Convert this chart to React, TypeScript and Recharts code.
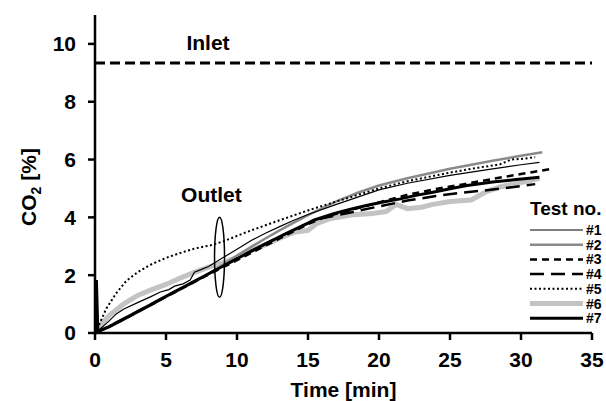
import {
  LineChart,
  Line,
  XAxis,
  YAxis,
  ReferenceLine,
  ReferenceDot,
  Legend,
} from "recharts";

const FONT = '"Liberation Sans", Arial, sans-serif';

// time [min], CO2 [%]
const test1: [number, number][] = [
  [0, 0], [0.5, 0.2], [1, 0.42], [1.5, 0.66], [2, 0.82], [3, 1.05], [3.9, 1.25],
  [4.6, 1.42], [5.2, 1.5], [5.6, 1.62], [6.2, 1.7], [6.7, 1.83], [7, 2.1], [7.5, 2.2],
  [8, 2.3], [9, 2.6], [10, 2.9], [11, 3.2], [12, 3.45], [13, 3.68], [14, 3.9], [15, 4.1],
  [17, 4.45], [20, 4.95], [22, 5.18], [25, 5.45], [28, 5.68], [30, 5.82], [31.3, 5.9],
];
const test2: [number, number][] = [
  [0, 0], [1, 0.2], [2, 0.45], [3, 0.72], [4, 0.98], [5, 1.25], [6, 1.5], [7, 1.76],
  [8, 2.04], [9, 2.36], [10, 2.68], [11, 2.98], [12, 3.27], [13, 3.55], [14, 3.82],
  [15, 4.08], [17, 4.55], [18.5, 4.85], [20, 5.1], [22, 5.35], [25, 5.68], [28, 5.96],
  [30, 6.13], [31.5, 6.25],
];
const test3: [number, number][] = [
  [0, 0], [1, 0.22], [2, 0.47], [3, 0.73], [4, 0.99], [5, 1.25], [6, 1.51], [7, 1.77],
  [8, 2.02], [9, 2.27], [10, 2.52], [11, 2.77], [12, 3.02], [13, 3.27], [14, 3.52],
  [15, 3.76], [16, 3.98], [17, 4.12], [18, 4.25], [20, 4.52], [22, 4.78], [24, 4.98],
  [26, 5.15], [28, 5.33], [30, 5.5], [32.2, 5.68],
];
const test4: [number, number][] = [
  [0, 0], [1, 0.23], [2, 0.49], [3, 0.75], [4, 1.01], [5, 1.27], [6, 1.53], [7, 1.79],
  [8, 2.05], [9, 2.31], [10, 2.57], [11, 2.83], [12, 3.08], [13, 3.33], [14, 3.57],
  [15, 3.8], [16, 3.97], [17, 4.07], [18, 4.17], [20, 4.38], [22, 4.58], [24, 4.74],
  [26, 4.86], [28, 4.96], [30, 5.08], [31, 5.15],
];
const test5: [number, number][] = [
  [0, 0], [0.3, 0.3], [0.8, 0.85], [1.5, 1.38], [2.2, 1.8], [3, 2.1], [3.9, 2.36],
  [5, 2.6], [6.2, 2.8], [7, 2.92], [8.1, 3.03], [9, 3.16], [10.4, 3.44], [11.4, 3.62],
  [13, 3.9], [15, 4.24], [17, 4.55], [20, 5.0], [22, 5.25], [25, 5.55], [27, 5.72],
  [28.5, 5.83], [29.3, 6.0], [30, 6.02], [31, 6.08],
];
const test6: [number, number][] = [
  [0, 0], [0.5, 0.35], [1, 0.6], [2, 1.0], [3, 1.3], [4, 1.5], [5, 1.68], [6, 1.9],
  [7, 2.1], [8, 2.28], [9, 2.42], [10, 2.62], [11, 2.85], [12, 3.05], [13, 3.28],
  [14, 3.48], [15, 3.55], [15.6, 3.78], [16.5, 3.95], [18, 4.08], [19.5, 4.13],
  [20.5, 4.2], [21.2, 4.45], [22, 4.3], [23, 4.35], [23.8, 4.45], [25, 4.55],
  [26.5, 4.6], [27.6, 4.9], [28.5, 5.05], [30, 5.2], [31.3, 5.35],
];
const test7: [number, number][] = [
  [0, 0], [0.1, 1.83], [0.2, 0.05], [1, 0.22], [2, 0.48], [3, 0.74], [4, 1.0],
  [5, 1.27], [6, 1.53], [7, 1.79], [8, 2.05], [9, 2.31], [10, 2.57], [11, 2.83],
  [12, 3.08], [13, 3.33], [14, 3.57], [15, 3.8], [15.4, 3.9], [16.8, 4.13], [18, 4.28],
  [19.1, 4.41], [20.3, 4.53], [21.5, 4.64], [22.6, 4.76], [23.8, 4.87], [25, 4.99],
  [26.2, 5.1], [28, 5.22], [29.5, 5.3], [31.3, 5.39],
];

const INLET = 9.34;
const xTicks = [0, 5, 10, 15, 20, 25, 30, 35];
const yTicks = [0, 2, 4, 6, 8, 10];

type Style = { name: string; data: [number, number][]; color: string; width: number; dash?: string };

// legend order
const series: Style[] = [
  { name: "#1", data: test1, color: "#000", width: 1.2 },
  { name: "#2", data: test2, color: "#8a8a8a", width: 2.5 },
  { name: "#3", data: test3, color: "#000", width: 2.5, dash: "7 5" },
  { name: "#4", data: test4, color: "#000", width: 2.5, dash: "14 7" },
  { name: "#5", data: test5, color: "#000", width: 2, dash: "2 2.5" },
  { name: "#6", data: test6, color: "#c3c3c3", width: 5 },
  { name: "#7", data: test7, color: "#000", width: 3 },
];
// drawing order: light gray under the rest
const drawOrder = [5, 1, 0, 2, 3, 4, 6];

const toPoints = (d: [number, number][]) => d.map(([t, v]) => ({ t, v }));

function LegendBox() {
  return (
    <svg width={78} height={132} style={{ overflow: "visible" }}>
      <text x={2} y={20} fontFamily={FONT} fontSize={19} fontWeight="bold" fill="#000">
        Test no.
      </text>
      {series.map((s, i) => {
        const y = 35 + i * 14.7;
        return (
          <g key={s.name}>
            <line x1={2} x2={55} y1={y} y2={y} stroke={s.color} strokeWidth={s.width} strokeDasharray={s.dash} />
            <text x={58} y={y + 5} fontFamily={FONT} fontSize={14} fontWeight="bold" fill="#000">
              {s.name}
            </text>
          </g>
        );
      })}
    </svg>
  );
}

const tickStyle = { fill: "#000", fontSize: 21, fontWeight: "bold", fontFamily: FONT };

export default function App() {
  return (
    <div style={{ position: "absolute", left: 0, top: 0, width: 606, height: 401, background: "#fff" }}>
      <LineChart width={606} height={401} margin={{ top: 15, right: 14, bottom: 0, left: 0 }}>
        <XAxis
          dataKey="t"
          type="number"
          domain={[0, 35]}
          ticks={xTicks}
          allowDataOverflow
          height={68}
          tick={tickStyle}
          tickSize={7}
          tickMargin={12}
          axisLine={{ stroke: "#000", strokeWidth: 2.5 }}
          tickLine={{ stroke: "#000", strokeWidth: 2.5 }}
          label={{
            content: (p: any) => {
              const vb = p.viewBox || { x: 95, width: 497 };
              return (
                <text x={vb.x + vb.width / 2} y={397} textAnchor="middle" fontFamily={FONT} fontSize={21} fontWeight="bold" fill="#000">
                  Time [min]
                </text>
              );
            },
          }}
        />
        <YAxis
          type="number"
          domain={[0, 11]}
          ticks={yTicks}
          allowDataOverflow
          width={95}
          tick={tickStyle}
          tickSize={7}
          tickMargin={12}
          axisLine={{ stroke: "#000", strokeWidth: 2.5 }}
          tickLine={{ stroke: "#000", strokeWidth: 2.5 }}
          label={{
            content: () => (
              <text transform="translate(36,187) rotate(-90)" textAnchor="middle" fontFamily={FONT} fontSize={21} fontWeight="bold" fill="#000">
                CO
                <tspan fontSize={14} dy={5}>2</tspan>
                <tspan dy={-5}> [%]</tspan>
              </text>
            ),
          }}
        />
        <ReferenceLine y={INLET} stroke="#000" strokeWidth={3} strokeDasharray="10 5" />
        {drawOrder.map((i) => {
          const s = series[i];
          return (
            <Line
              key={s.name}
              name={s.name}
              data={toPoints(s.data)}
              dataKey="v"
              type="linear"
              stroke={s.color}
              strokeWidth={s.width}
              strokeDasharray={s.dash}
              dot={false}
              activeDot={false}
              isAnimationActive={false}
            />
          );
        })}
        <ReferenceDot
          x={7.96}
          y={INLET}
          r={0}
          shape={(p: any) => (
            <text x={p.cx} y={p.cy - 13} textAnchor="middle" fontFamily={FONT} fontSize={21} fontWeight="bold" fill="#000">
              Inlet
            </text>
          )}
        />
        <ReferenceDot
          x={8.2}
          y={4.52}
          r={0}
          shape={(p: any) => (
            <text x={p.cx} y={p.cy} textAnchor="middle" fontFamily={FONT} fontSize={21} fontWeight="bold" fill="#000">
              Outlet
            </text>
          )}
        />
        <ReferenceDot
          x={8.77}
          y={2.62}
          r={0}
          shape={(p: any) => (
            <ellipse cx={p.cx} cy={p.cy} rx={5} ry={40} fill="none" stroke="#000" strokeWidth={1.5} />
          )}
        />
        <Legend
          layout="vertical"
          align="center"
          verticalAlign="middle"
          wrapperStyle={{ left: 528, top: 195, width: 78 }}
          content={() => <LegendBox />}
        />
      </LineChart>
    </div>
  );
}
